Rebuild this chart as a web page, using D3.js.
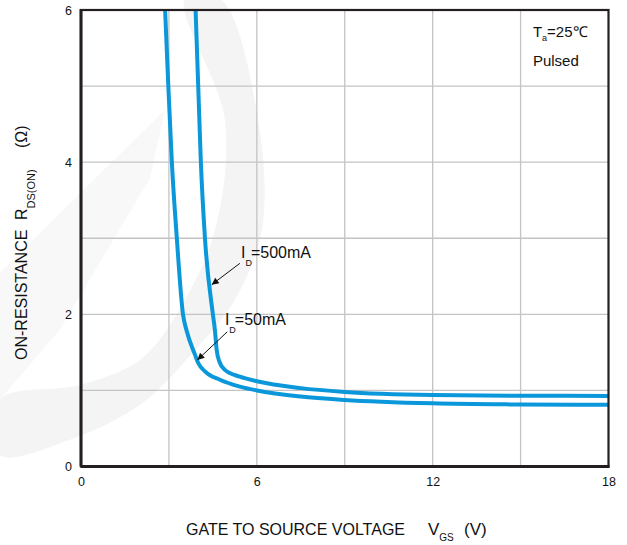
<!DOCTYPE html>
<html>
<head>
<meta charset="utf-8">
<script src="https://cdn.jsdelivr.net/npm/d3@7"></script>
<style>
  body { margin: 0; background: #fff; }
  text { font-family: "Liberation Sans", Arial, sans-serif; fill: #111; }
</style>
</head>
<body>
<div id="chart"></div>
<script>
const width = 627, height = 545;
const margin = {top: 10, right: 18.5, bottom: 78.5, left: 81};

// courbes (VGS en V, RDS(on) en ohm)
const vgs50 = [2.87, 2.98, 3.10, 3.27, 3.48, 3.60, 3.89, 4.0, 4.23, 4.74, 5.42, 6, 7.5, 9, 12, 15, 18];
const ron50 = [6, 5, 4, 3, 2, 1.79, 1.47, 1.36, 1.25, 1.14, 1.05, 1.0, 0.92, 0.875, 0.83, 0.815, 0.81];
const vgs500 = [3.91, 4.0, 4.09, 4.23, 4.50, 4.57, 4.63, 4.72, 4.91, 5.42, 6, 7.5, 9, 12, 15, 18];
const ron500 = [6, 5, 4, 3, 2, 1.79, 1.53, 1.38, 1.27, 1.18, 1.12, 1.03, 0.98, 0.94, 0.93, 0.928];

const xTicks = [0, 6, 12, 18];
const yTicks = [0, 2, 4, 6];
const xGrid = [3, 6, 9, 12, 15];
const yGrid = [1, 2, 3, 4, 5];

// annotations : texte + flèche (en unités du graphique)
const labels = [
  {sub: "D", rest: "=500mA", tx: 5.46, ty: 2.74, x0: 5.42, y0: 2.67, x1: 4.46, y1: 2.39},
  {sub: "D", rest: "=50mA", tx: 4.91, ty: 1.86, x0: 4.99, y0: 1.77, x1: 3.97, y1: 1.40}
];

// logo en filigrane (unités du graphique)
const watermark = [
  [4.77, 6.14], [6.04, 4.56], [6.17, 3.11], [5.25, 2.19], [3.89, 1.53], [2.01, 0.81], [-0.38, 0.35], [-2.76, 0.15],
  [-2.76, 0.88], [-0.04, 1.07], [2.01, 1.40], [3.34, 2.05], [4.57, 3.11], [4.91, 4.56], [3.55, 6.14]
];
const stripe = [[-2.76, 2.55], [2.87, 4.69], [2.35, 3.79], [-0.72, 1.80], [-2.76, 0.88]];

const svg = d3.select("#chart").append("svg")
  .attr("width", width)
  .attr("height", height);

const x = d3.scaleLinear().domain([0, 18]).range([margin.left, width - margin.right]);
const y = d3.scaleLinear().domain([0, 6]).range([height - margin.bottom, margin.top]);

// filigrane
svg.append("path")
  .attr("d", d3.line().x(d => x(d[0])).y(d => y(d[1])).curve(d3.curveCatmullRomClosed)(watermark))
  .attr("fill", "#f4f4f4");
svg.append("path")
  .attr("d", d3.line().x(d => x(d[0])).y(d => y(d[1]))(stripe) + "Z")
  .attr("fill", "#f8f8f8");

// grille
svg.append("g")
  .selectAll("line")
  .data(xGrid)
  .join("line")
  .attr("x1", d => x(d)).attr("x2", d => x(d))
  .attr("y1", y(0)).attr("y2", y(6))
  .attr("stroke", "#c4c4c4").attr("stroke-width", 1.3);
svg.append("g")
  .selectAll("line")
  .data(yGrid)
  .join("line")
  .attr("x1", x(0)).attr("x2", x(18))
  .attr("y1", d => y(d)).attr("y2", d => y(d))
  .attr("stroke", "#c4c4c4").attr("stroke-width", 1.3);

// courbes
svg.append("clipPath").attr("id", "clip")
  .append("rect")
  .attr("x", x(0)).attr("y", y(6))
  .attr("width", x(18) - x(0)).attr("height", y(0) - y(6));

const line = d3.line()
  .x(d => x(d[0]))
  .y(d => y(d[1]))
  .curve(d3.curveMonotoneX);

[[vgs50, ron50], [vgs500, ron500]].forEach(([vs, rs]) => {
  svg.append("path")
    .attr("clip-path", "url(#clip)")
    .attr("d", line(vs.map((v, i) => [v, rs[i]])))
    .attr("fill", "none")
    .attr("stroke", "#0a98db")
    .attr("stroke-width", 4);
});

// cadre
svg.append("rect")
  .attr("x", x(0)).attr("y", y(6))
  .attr("width", x(18) - x(0)).attr("height", y(0) - y(6))
  .attr("fill", "none")
  .attr("stroke", "#231f20")
  .attr("stroke-width", 2.2);
svg.append("line")
  .attr("x1", x(0)).attr("x2", x(18) + 1)
  .attr("y1", y(0)).attr("y2", y(0))
  .attr("stroke", "#231f20").attr("stroke-width", 3);
svg.append("line")
  .attr("x1", x(0)).attr("x2", x(0))
  .attr("y1", y(6) - 1).attr("y2", y(0))
  .attr("stroke", "#231f20").attr("stroke-width", 3);

// axes (étiquettes seulement)
const xAxis = svg.append("g")
  .attr("transform", `translate(0,${y(0)})`)
  .call(d3.axisBottom(x).tickValues(xTicks).tickFormat(d3.format("d")).tickSize(0).tickPadding(11));
const yAxis = svg.append("g")
  .attr("transform", `translate(${x(0)},0)`)
  .call(d3.axisLeft(y).tickValues(yTicks).tickFormat(d3.format("d")).tickSize(0).tickPadding(9));
[xAxis, yAxis].forEach(a => {
  a.select(".domain").remove();
  a.selectAll("text")
    .style("font-family", '"Liberation Sans", Arial, sans-serif')
    .style("font-size", "12.5px")
    .attr("fill", "#111");
});

// flèches
svg.append("defs").append("marker")
  .attr("id", "arrow")
  .attr("viewBox", "0 0 10 10")
  .attr("refX", 10).attr("refY", 5)
  .attr("markerWidth", 9).attr("markerHeight", 7)
  .attr("markerUnits", "userSpaceOnUse")
  .attr("orient", "auto")
  .append("path")
  .attr("d", "M0,0L10,5L0,10z")
  .attr("fill", "#111");

labels.forEach(l => {
  svg.append("line")
    .attr("x1", x(l.x0)).attr("y1", y(l.y0))
    .attr("x2", x(l.x1)).attr("y2", y(l.y1))
    .attr("stroke", "#111").attr("stroke-width", 1)
    .attr("marker-end", "url(#arrow)");
  const t = svg.append("text")
    .attr("x", x(l.tx)).attr("y", y(l.ty))
    .style("font-size", "16px");
  t.append("tspan").text("I");
  t.append("tspan").text(l.sub).style("font-size", "9px").attr("dy", 8);
  t.append("tspan").text(l.rest).attr("dy", -8).attr("dx", -1);
});

// conditions de mesure
const ta = svg.append("text")
  .attr("x", x(15.42)).attr("y", y(5.65))
  .style("font-size", "15px");
ta.append("tspan").text("T");
ta.append("tspan").text("a").style("font-size", "9px").attr("dy", 4);
ta.append("tspan").text("=25\u2103").attr("dy", -4);
svg.append("text")
  .attr("x", x(15.42)).attr("y", y(5.27))
  .style("font-size", "15px")
  .text("Pulsed");

// titre axe X
const xt = svg.append("text")
  .attr("y", 535)
  .style("font-size", "17px");
xt.append("tspan").attr("x", 186).attr("textLength", 219).attr("lengthAdjust", "spacingAndGlyphs")
  .text("GATE TO SOURCE VOLTAGE");
xt.append("tspan").attr("x", 428).text("V");
xt.append("tspan").text("GS").style("font-size", "10px").attr("dy", 6);
xt.append("tspan").attr("x", 464).attr("dy", -6).text("(V)");

// titre axe Y
const yt = svg.append("text")
  .attr("transform", "rotate(-90)")
  .attr("x", -360).attr("y", 27)
  .style("font-size", "16px");
yt.append("tspan").text("ON-RESISTANCE");
yt.append("tspan").attr("x", -220).text("R");
yt.append("tspan").text("DS(ON)").style("font-size", "11px").attr("dy", 8);
yt.append("tspan").attr("x", -148).attr("dy", -8).text("(\u03a9)");
</script>
</body>
</html>
